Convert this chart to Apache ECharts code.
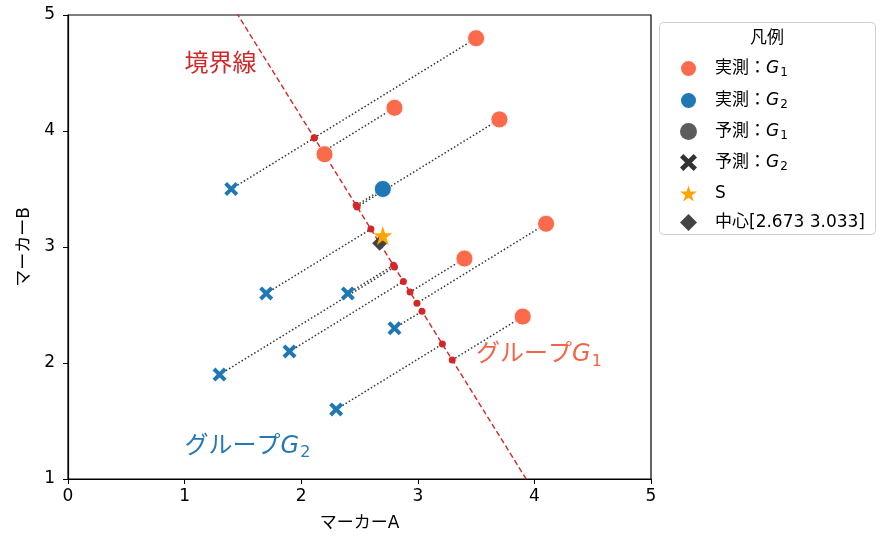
<!DOCTYPE html>
<html>
<head>
<meta charset="utf-8">
<script src="https://cdn.jsdelivr.net/npm/echarts@6/dist/echarts.min.js"></script>
<style>html,body{margin:0;padding:0;background:#fff;}#main{width:884px;height:546px;}</style>
</head>
<body>
<div id="main"></div>
<script>
// ---- data ----
const actualG1 = [[3.5,4.8],[2.8,4.2],[3.7,4.1],[2.2,3.8],[4.1,3.2],[3.4,2.9],[3.9,2.4]];
const actualG2PredG1 = [[2.7,3.5]];
const predG2 = [[1.4,3.5],[1.7,2.6],[2.4,2.6],[1.3,1.9],[1.9,2.1],[2.8,2.3],[2.3,1.6]];
const pointS = [[2.7,3.1]];
const centerPt = [2.673,3.033];
const boundaryNormal = [1,0.618];
const boundaryYRange = [0.5,5.5];
const xTicks = [0,1,2,3,4,5];
const yTicks = [1,2,3,4,5];
const legendNames = ['実測：G1','実測：G2','予測：G1','予測：G2','S','中心[2.673 3.033]'];
const annotations = [
  {text:'境界線', pos:[1.0,4.57], color:'#d62728'},
  {text:'グループG1', pos:[3.5,2.07], color:'#f26448'},
  {text:'グループG2', pos:[1.0,1.28], color:'#2479b5'}
];

// ---- derived geometry ----
const allPts = actualG1.concat(actualG2PredG1, predG2);
const ww = boundaryNormal[0]*boundaryNormal[0] + boundaryNormal[1]*boundaryNormal[1];
function project(p){
  const t = ((p[0]-centerPt[0])*boundaryNormal[0] + (p[1]-centerPt[1])*boundaryNormal[1]) / ww;
  return [p[0]-t*boundaryNormal[0], p[1]-t*boundaryNormal[1]];
}
const projections = allPts.map(project);
const projLines = allPts.map((p,i)=>({coords:[p, projections[i]]}));
const boundaryLine = boundaryYRange.map(y=>[centerPt[0]-boundaryNormal[1]/boundaryNormal[0]*(y-centerPt[1]), y]);

const FONT = "'DejaVu Sans','Noto Sans CJK JP',sans-serif";
const X_PATH = 'path://M2,0 L5,3 L8,0 L10,2 L7,5 L10,8 L8,10 L5,7 L2,10 L0,8 L3,5 L0,2 Z';
const STAR_PATH = 'path://M50,0 L61.2,34.5 L97.6,34.5 L68.2,55.9 L79.4,90.5 L50,69.1 L20.6,90.5 L31.8,55.9 L2.4,34.5 L38.8,34.5 Z';

function richG(s){
  return s.replace(/G([12])/g, '{g|G}{s|$1}');
}

const chart = echarts.init(document.getElementById('main'));
chart.setOption({
  animation:false,
  backgroundColor:'#fff',
  grid:{left:68, right:233, top:15, bottom:67, show:true, borderColor:'#000', borderWidth:1.2, backgroundColor:'transparent'},
  xAxis:{type:'value', min:xTicks[0], max:xTicks[xTicks.length-1], interval:1,
    name:'マーカーA', nameLocation:'middle', nameGap:36,
    nameTextStyle:{fontFamily:FONT, fontSize:17, color:'#000'},
    axisLine:{show:true, lineStyle:{color:'#000', width:1.2}},
    axisTick:{show:true, length:5, lineStyle:{color:'#000'}},
    axisLabel:{fontFamily:FONT, fontSize:17, color:'#000', margin:9},
    splitLine:{show:false}},
  yAxis:{type:'value', min:yTicks[0], max:yTicks[yTicks.length-1], interval:1,
    name:'マーカーB', nameLocation:'middle', nameGap:31,
    nameTextStyle:{fontFamily:FONT, fontSize:17, color:'#000'},
    axisLine:{show:true, lineStyle:{color:'#000', width:1.2}},
    axisTick:{show:true, length:5, lineStyle:{color:'#000'}},
    axisLabel:{fontFamily:FONT, fontSize:17, color:'#000', margin:13},
    splitLine:{show:false}},
  legend:{
    orient:'vertical', left:674, top:54, itemWidth:17, itemHeight:17, itemGap:12,
    selectedMode:false,
    data:[
      {name:legendNames[0], icon:'circle', itemStyle:{color:'#fb6a4a'}},
      {name:legendNames[1], icon:'circle', itemStyle:{color:'#1f77b4'}},
      {name:legendNames[2], icon:'circle', itemStyle:{color:'#333333'}},
      {name:legendNames[3], icon:X_PATH, itemStyle:{color:'#333333'}},
      {name:legendNames[4], icon:STAR_PATH, itemStyle:{color:'#ffa500'}},
      {name:legendNames[5], icon:'diamond', itemStyle:{color:'#444444'}}
    ],
    formatter:function(n){ return richG(n); },
    textStyle:{fontFamily:FONT, fontSize:17, color:'#000', padding:[0,0,0,13],
      rich:{
        g:{fontFamily:'DejaVu Sans', fontStyle:'italic', fontSize:17, color:'#000'},
        s:{fontFamily:'DejaVu Sans', fontSize:12, color:'#000', padding:[9,0,0,1]}
      }}
  },
  graphic:[
    {type:'rect', left:659, top:22, shape:{width:216, height:212, r:4}, style:{fill:'#fff', stroke:'#d0d0d0', lineWidth:1}, z:-1},
    {type:'text', left:750, top:28, style:{text:'凡例', font:"17px 'Noto Sans CJK JP'", fill:'#000'}}
  ],
  series:[
    {type:'line', name:'boundary', data:boundaryLine, showSymbol:false, symbol:'none', clip:true,
      lineStyle:{color:'#d62728', width:1.4, type:[5.5,3]}, z:2, silent:true},
    {type:'lines', name:'proj', coordinateSystem:'cartesian2d', data:projLines,
      lineStyle:{color:'#333', width:1.5, type:[1.5,2.2], opacity:1}, z:3, silent:true},
    {type:'scatter', name:'projDots', data:projections, symbol:'circle', symbolSize:7,
      itemStyle:{color:'#d62728', opacity:1}, z:4},
    {type:'scatter', name:legendNames[0], data:actualG1, symbol:'circle', symbolSize:17,
      itemStyle:{color:'#fb6a4a', borderColor:'#fff', borderWidth:0.8, opacity:1}, z:5},
    {type:'scatter', name:legendNames[1], data:actualG2PredG1, symbol:'circle', symbolSize:17,
      itemStyle:{color:'#1f77b4', borderColor:'#fff', borderWidth:0.8, opacity:1}, z:5},
    {type:'scatter', name:legendNames[2], data:[], symbol:'circle', symbolSize:16, itemStyle:{color:'#333'}},
    {type:'scatter', name:legendNames[3], data:predG2, symbol:X_PATH, symbolSize:14,
      itemStyle:{color:'#1f77b4', opacity:1}, z:5},
    {type:'scatter', name:legendNames[5], data:[centerPt], symbol:'diamond', symbolSize:[15,15],
      itemStyle:{color:'#444', opacity:1}, z:6},
    {type:'scatter', name:legendNames[4], data:pointS, symbol:STAR_PATH, symbolSize:19,
      itemStyle:{color:'#ffa500', opacity:1}, z:7},
    {type:'scatter', name:'annotations', data:annotations.map(a=>({value:a.pos, label:{color:a.color, rich:{
        g:{fontFamily:'DejaVu Sans', fontStyle:'italic', fontSize:24, color:a.color, textBorderWidth:0},
        s:{fontFamily:'DejaVu Sans', fontSize:16, color:a.color, padding:[13,0,0,1], textBorderWidth:0}
      }}, txt:a.text})),
      symbolSize:0, silent:true, z:8, itemStyle:{opacity:1},
      label:{show:true, position:[0,0], align:'left', verticalAlign:'middle', opacity:1,
        fontFamily:FONT, fontSize:24, textBorderWidth:0, textBorderColor:'transparent',
        formatter:function(p){ return richG(p.data.txt); }}}
  ]
});
</script>
</body>
</html>
